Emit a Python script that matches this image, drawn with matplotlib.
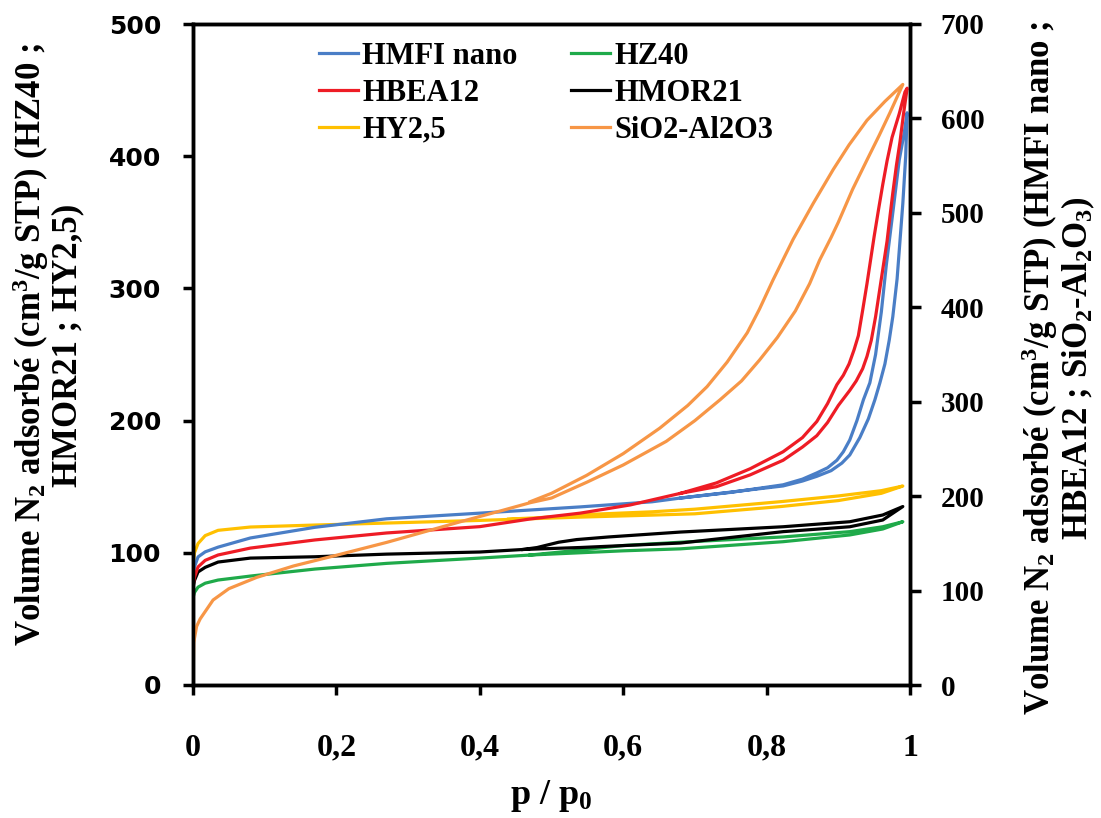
import matplotlib
matplotlib.use("Agg")
import matplotlib.pyplot as plt

plt.rcParams['font.family'] = ['Liberation Serif', 'DejaVu Sans']
plt.rcParams['font.weight'] = 'bold'
plt.rcParams['mathtext.fontset'] = 'custom'
plt.rcParams['mathtext.rm'] = 'Liberation Serif:bold'
plt.rcParams['mathtext.it'] = 'Liberation Serif:italic:bold'
plt.rcParams['mathtext.bf'] = 'Liberation Serif:bold'

# ---------------- data (p/p0 , volume): adsorption then desorption ----------------
# Left axis series
hy25_p = [0, 0.002, 0.007, 0.017, 0.035, 0.08, 0.17, 0.27, 0.4, 0.54, 0.64, 0.7, 0.82, 0.9, 0.96, 0.99,
          0.96, 0.9, 0.82, 0.7, 0.64, 0.55, 0.48, 0.44]
hy25_v = [90, 100, 107, 113, 117, 119.5, 121, 122.5, 124.5, 127, 128.5, 129.5, 135, 139.5, 145, 150.5,
          147, 143, 138.7, 133, 131, 129, 126.5, 125.5]

hmor21_p = [0, 0.002, 0.007, 0.017, 0.035, 0.08, 0.17, 0.27, 0.4, 0.46, 0.54, 0.68, 0.823, 0.916, 0.962, 0.99,
            0.962, 0.916, 0.823, 0.68, 0.58, 0.535, 0.51, 0.48, 0.46]
hmor21_v = [74, 79, 85.5, 89, 93, 96, 97, 99, 100.6, 102.5, 104, 107.4, 116, 119.7, 124.8, 135,
            128.6, 123.5, 119.7, 115.7, 112, 110, 108, 104, 102.5]

hz40_p = [0, 0.002, 0.007, 0.017, 0.035, 0.08, 0.17, 0.27, 0.4, 0.47, 0.6, 0.68, 0.823, 0.916, 0.962, 0.99,
          0.962, 0.916, 0.823, 0.68, 0.6, 0.52, 0.47]
hz40_v = [66, 70, 74, 77, 79.4, 82.4, 87.7, 92, 96, 98.3, 101.5, 103, 108.4, 113.5, 118, 123.5,
          119.7, 116, 112, 108, 105.5, 101, 98.3]

# Right axis series
hmfi_p = [0, 0.002, 0.007, 0.017, 0.035, 0.08, 0.17, 0.27, 0.4, 0.54, 0.64, 0.68, 0.823, 0.85, 0.87, 0.89,
          0.905, 0.916, 0.93, 0.942, 0.951, 0.958, 0.965, 0.971, 0.976, 0.982, 0.986, 0.99, 0.994, 0.996,
          0.992, 0.985, 0.976, 0.967, 0.96, 0.952, 0.944, 0.935, 0.926, 0.916, 0.907, 0.898, 0.885, 0.87,
          0.85, 0.823, 0.75, 0.68]
hmfi_v = [115, 125, 135.6, 141, 146, 155.7, 167, 176, 182, 188.6, 194, 198, 210.8, 216, 221, 227,
          235, 243.6, 262, 282, 302, 320, 340, 365, 390, 430, 470, 510, 560, 606,
          585, 556, 500, 445, 395, 350, 320, 302, 280, 259.5, 247, 238, 230, 224.6,
          218, 212, 204, 198]

hbea_p = [0, 0.002, 0.007, 0.017, 0.035, 0.08, 0.17, 0.27, 0.4, 0.47, 0.54, 0.61, 0.68, 0.73, 0.777, 0.823,
          0.85, 0.87, 0.885, 0.9, 0.916, 0.925, 0.934, 0.94, 0.946, 0.952, 0.958, 0.963, 0.968, 0.972,
          0.976, 0.981, 0.986, 0.991, 0.996,
          0.993, 0.985, 0.975, 0.968, 0.962, 0.956, 0.95, 0.945, 0.94, 0.934, 0.928, 0.922, 0.915, 0.907,
          0.898, 0.885, 0.87, 0.85, 0.823, 0.777, 0.73, 0.68]
hbea_v = [105, 114, 125, 132, 137.7, 145, 153.6, 161, 167.7, 175.8, 182, 190.7, 203, 210, 222.5, 238,
          252, 264, 278, 296, 312, 322, 335, 348, 365, 390, 420, 445, 470, 496,
          521, 550, 575, 605, 632,
          628, 605, 580, 555, 530, 503, 475, 450, 425, 397, 370, 355, 340, 328,
          318, 298, 279, 262, 247, 229, 214, 203]

sial_p = [0, 0.001, 0.005, 0.01, 0.028, 0.05, 0.089, 0.14, 0.198, 0.27, 0.372, 0.432, 0.47, 0.5, 0.55, 0.6,
          0.66, 0.7, 0.735, 0.765, 0.79, 0.815, 0.84, 0.86, 0.874, 0.89, 0.9, 0.92, 0.94, 0.957, 0.972, 0.99,
          0.965, 0.94, 0.915, 0.893, 0.865, 0.837, 0.809, 0.79, 0.773, 0.745, 0.717, 0.69, 0.651, 0.6,
          0.549, 0.5, 0.47]
sial_v = [0, 45, 62, 70, 90, 102, 114, 126, 137, 151, 172.7, 185, 193, 198, 215, 233,
          258, 280, 302, 322, 344, 368, 396, 425, 450, 474, 490, 525, 556, 582, 606, 636,
          618, 598, 572, 546, 510, 472, 429, 398, 373, 342, 316, 296, 272, 245,
          222, 203, 194]

x_ticks = [0, 0.2, 0.4, 0.6, 0.8, 1.0]
x_tick_labels = ['0', '0,2', '0,4', '0,6', '0,8', '1']
left_ticks = [0, 100, 200, 300, 400, 500]
right_ticks = [0, 100, 200, 300, 400, 500, 600, 700]

c_blue = '#4A7EC6'
c_green = '#1FAA4A'
c_red = '#EE1C25'
c_black = '#000000'
c_yellow = '#FFC000'
c_orange = '#F79646'

# ---------------- figure ----------------
fig = plt.figure(figsize=(11.01, 8.18), dpi=100)
ax = fig.add_axes([193 / 1101, 1 - 685 / 818, 717 / 1101, 661 / 818])
ax2 = ax.twinx()

lw = 2.3
l_hz40, = ax.plot(hz40_p, hz40_v, color=c_green, lw=lw, label='HZ40')
l_hmor, = ax.plot(hmor21_p, hmor21_v, color=c_black, lw=lw, label='HMOR21')
l_hy, = ax.plot(hy25_p, hy25_v, color=c_yellow, lw=lw, label='HY2,5')

l_hmfi, = ax2.plot(hmfi_p, hmfi_v, color=c_blue, lw=lw, label='HMFI nano')
l_hbea, = ax2.plot(hbea_p, hbea_v, color=c_red, lw=lw, label='HBEA12')
l_sial, = ax2.plot(sial_p, sial_v, color=c_orange, lw=lw, label='SiO2-Al2O3')

ax.set_xlim(0, 1)
ax.set_ylim(0, 500)
ax2.set_ylim(0, 700)

ax.set_xticks(x_ticks, x_tick_labels, fontfamily='Liberation Serif', fontweight='bold', fontsize=23)
ax.set_yticks(left_ticks, [str(t) for t in left_ticks], fontfamily='DejaVu Sans', fontweight='bold', fontsize=18)
ax2.set_yticks(right_ticks, [str(t) for t in right_ticks], fontfamily='Liberation Serif', fontweight='bold', fontsize=21)

ax.tick_params(axis='x', direction='out', length=7, width=2.5, pad=28)
ax.tick_params(axis='y', direction='out', length=7, width=2.5, pad=16)
ax2.tick_params(axis='y', direction='out', length=8, width=2.5, pad=14)

for a in (ax, ax2):
    for s in a.spines.values():
        s.set_linewidth(2.5)
        s.set_color('black')

fig.text(551 / 1101, 1 - 796 / 818, 'p / p$_{0}$', ha='center', va='center', fontsize=26, fontweight='bold')

fig.text(47 / 1101, 1 - 345 / 818,
         'Volume N$_{2}$ adsorbé (cm$^{3}$/g STP) (HZ40 ;\nHMOR21 ; HY2,5)',
         rotation=90, ha='center', va='center', multialignment='center',
         fontsize=25, fontweight='bold', linespacing=1.0)
fig.text(1058 / 1101, 1 - 368 / 818,
         'Volume N$_{2}$ adsorbé (cm$^{3}$/g STP) (HMFI nano ;\nHBEA12 ; SiO$_{2}$-Al$_{2}$O$_{3}$)',
         rotation=90, ha='center', va='center', multialignment='center',
         fontsize=25, fontweight='bold', linespacing=1.0)

handles = [l_hmfi, l_hbea, l_hy, l_hz40, l_hmor, l_sial]
leg = ax2.legend(handles=handles, labels=[h.get_label() for h in handles], ncol=2,
                 loc='upper left', bbox_to_anchor=(319 / 1101, 1 - 42 / 818),
                 bbox_transform=fig.transFigure, frameon=False,
                 prop={'family': 'Liberation Serif', 'weight': 'bold', 'size': 22},
                 handlelength=1.27, handletextpad=0.15, columnspacing=1.75,
                 labelspacing=0.26, borderpad=0, borderaxespad=0)

fig.savefig('out.png', dpi=100)
